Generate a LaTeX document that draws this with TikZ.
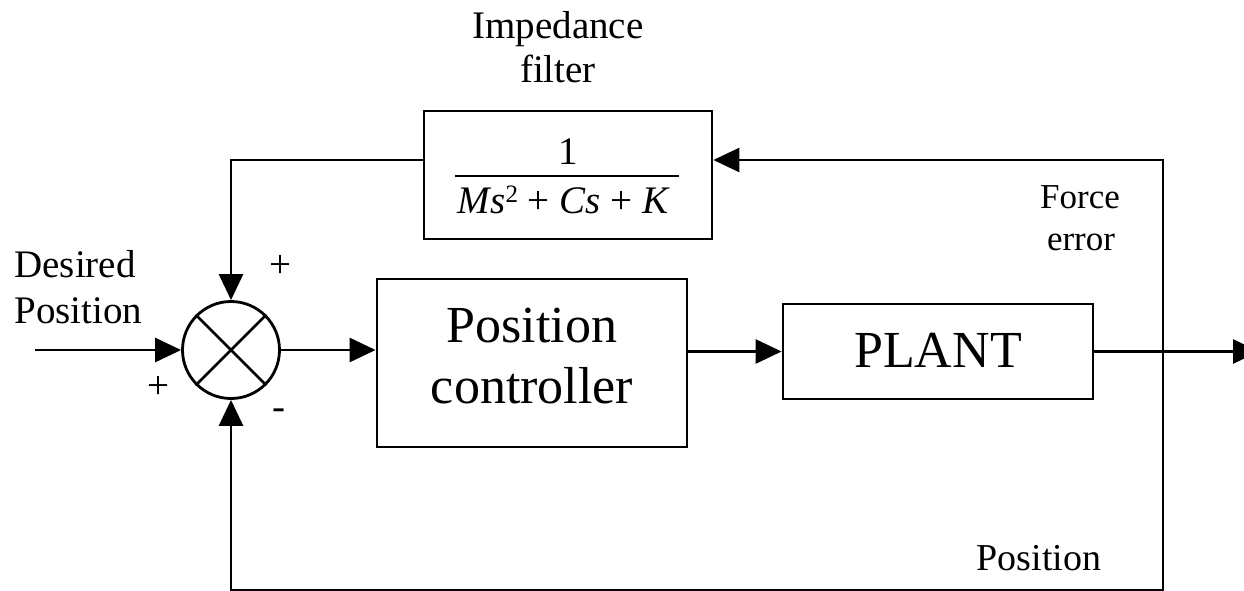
\documentclass[tikz,border=0pt]{standalone}
\usepackage{fontspec}
\setmainfont{Liberation Serif}
\usetikzlibrary{arrows.meta}
\begin{document}
\begin{tikzpicture}[x=1pt,y=-1pt,line width=2.8pt,
  blk/.style={draw,line width=2.8pt,inner sep=0pt,rectangle},
  arr/.style={-{Triangle[length=26pt,width=24pt]}},
  lbl/.style={inner sep=0pt,font=\fontsize{39}{44}\selectfont},
  flbl/.style={inner sep=0pt,font=\fontsize{35}{42}\selectfont},
  big/.style={inner sep=0pt,font=\fontsize{52}{61}\selectfont},
  sgn/.style={inner sep=0pt,font=\fontsize{39}{44}\selectfont}]
\useasboundingbox (0,0) rectangle (1244,591);

% blocks
\node[blk,minimum width=288pt,minimum height=128pt] (imp) at (568,175) {};
\node[blk,minimum width=310pt,minimum height=168pt] (pc) at (532,363) {};
\node[blk,minimum width=310pt,minimum height=95pt] (plant) at (938,351.5) {};
\node[draw,circle,line width=2.8pt,minimum size=97pt,inner sep=0pt] (sum) at (231,350) {};
\draw[line width=2.8pt] (sum.north west) -- (sum.south east);
\draw[line width=2.8pt] (sum.north east) -- (sum.south west);

% texts in blocks
\node[big,anchor=base] (pct1) at (532,342) {Position};
\node[big,anchor=base] (pct2) at (532,403) {controller};
\node[big,anchor=base] (plt) at (938,367) {PLANT};
\node[lbl,anchor=base] (num) at (568,164) {1};
\node[lbl,anchor=base] (den) at (564,213) {\textit{Ms}\raisebox{11pt}{\fontsize{25}{30}\selectfont 2} + \textit{Cs} + \textit{K}};
\coordinate (barl) at (455,176);
\coordinate (barr) at (679,176);
\draw[line width=2pt] (barl) -- (barr);

% labels
\node[lbl,anchor=base] (impl1) at (558,39) {Impedance};
\node[lbl,anchor=base] (impl2) at (558,83) {filter};
\node[flbl,anchor=base] (fe1) at (1080,208) {Force};
\node[flbl,anchor=base] (fe2) at (1081,250) {error};
\node[lbl,anchor=base west] (dp1) at (13,277) {Desired};
\node[lbl,anchor=base west] (dp2) at (13,323) {Position};
\node[lbl,anchor=base,font=\fontsize{38}{44}\selectfont] (posl) at (1039,570) {Position};
\node[sgn] (p1) at (280,266) {+};
\node[sgn] (p2) at (158,387) {+};
\node[sgn] (m1) at (279,414) {-};

% connectors
\coordinate (inp) at (35,350);
\coordinate (out) at (1259,351.5);
\coordinate (br) at (1163,351.5);
\coordinate (tp) at (1163,160);
\coordinate (bt) at (1163,590);
\draw[arr] (inp) -- (sum.west);
\draw[arr] (sum.east) -- (sum.east -| pc.west);
\draw[arr] (pc.east |- plant.west) -- (plant.west);
\draw[arr] (plant.east) -- (out);
\draw[arr] (br) -- (tp) -- (tp -| imp.east);
\draw[arr] (imp.west |- tp) -| (sum.north);
\draw[arr] (br) -- (bt) -| (sum.south);
\end{tikzpicture}
\end{document}
